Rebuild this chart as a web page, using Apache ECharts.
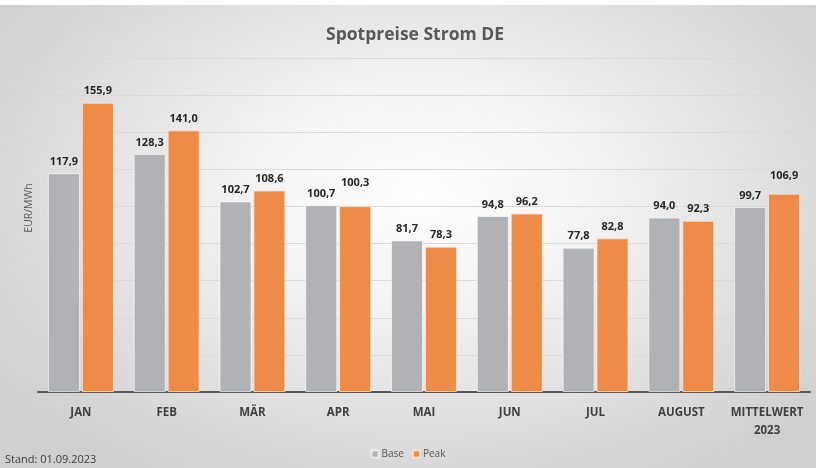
<!DOCTYPE html>
<html>
<head>
<meta charset="utf-8">
<script src="https://cdn.jsdelivr.net/npm/echarts@6/dist/echarts.min.js"></script>
<style>
html,body{margin:0;padding:0;background:#ffffff;}
#wrap{position:absolute;left:0;top:5px;width:816px;height:463px;
background:radial-gradient(ellipse 520px 330px at 420px 190px,#ffffff 0%,#f2f2f2 35%,#dcdcdc 75%,#cfcfcf 100%);}
#chart{position:absolute;left:0;top:0;width:816px;height:468px;}
</style>
</head>
<body>
<div id="wrap"></div>
<div id="chart"></div>
<script>
const categories = ['JAN','FEB','MÄR','APR','MAI','JUN','JUL','AUGUST','MITTELWERT\n2023'];
const baseValues = [117.9,128.3,102.7,100.7,81.7,94.8,77.8,94.0,99.7];
const peakValues = [155.9,141.0,108.6,100.3,78.3,96.2,82.8,92.3,106.9];
const yTicks = [0,20,40,60,80,100,120,140,160,180];

const FONT = '"Open Sans", "Noto Sans", sans-serif';
const fmt = v => v.toFixed(1).replace('.', ',');

// label extra lift for overlapping labels (styling, not data)
const peakLift = {3: 12, 8: 6};

const chart = echarts.init(document.getElementById('chart'), null, {renderer:'canvas'});
const option = {
  backgroundColor: 'transparent',
  animation: false,
  title: {
    text: 'Spotpreise Strom DE',
    top: 21, left: 410, textAlign: 'center',
    textStyle: {fontFamily: FONT, fontSize: 17.5, fontWeight: 'bold', color: '#595959'}
  },
  legend: {
    bottom: 4, left: 'center',
    itemWidth: 7, itemHeight: 7, itemGap: 8, icon: 'rect',
    textStyle: {fontFamily: FONT, fontSize: 10, color: '#595959', padding:[0,0,0,-2]},
    data: ['Base','Peak']
  },
  grid: {left: 38, right: 6, top: 58, bottom: 76, containLabel: false},
  xAxis: {
    type: 'category', data: categories,
    axisLine: {show: true, lineStyle: {color: '#595959', width: 2}},
    axisTick: {show: false},
    axisLabel: {fontFamily: FONT, fontSize: 11.5, fontWeight: 'bold', color: '#404040', margin: 12, lineHeight: 18, interval: 0}
  },
  yAxis: {
    type: 'value', min: yTicks[0], max: yTicks[yTicks.length-1], interval: yTicks[1]-yTicks[0],
    axisLine: {show: false}, axisTick: {show: false}, axisLabel: {show: false},
    splitLine: {lineStyle: {color: '#dadada', width: 1}}
  },
  graphic: [
    {type: 'text', left: 5, top: 454, style: {text: 'Stand: 01.09.2023', fontFamily: FONT, fontSize: 11, fill: '#404040'}},
    {type: 'text', x: 29, y: 208, rotation: Math.PI/2, style: {text: 'EUR/MWh', fontFamily: FONT, fontSize: 10.5, fill: '#595959', align: 'center', verticalAlign: 'middle'}}
  ],
  series: [
    {
      name: 'Base', type: 'bar', barWidth: 32, barGap: '6%',
      itemStyle: {color: '#b1b2b6', borderColor: 'rgba(255,255,255,0.6)', borderWidth: 1},
      label: {show: true, position: 'top', distance: 6, formatter: p => fmt(p.value),
        fontFamily: FONT, fontSize: 11, fontWeight: 'bold', color: '#262626'},
      data: baseValues
    },
    {
      name: 'Peak', type: 'bar', barWidth: 32,
      itemStyle: {color: '#ef8b48', borderColor: 'rgba(255,230,210,0.8)', borderWidth: 1},
      label: {show: true, position: 'top', distance: 6, formatter: p => fmt(p.value),
        fontFamily: FONT, fontSize: 11, fontWeight: 'bold', color: '#262626'},
      data: peakValues.map((v, i) => peakLift[i] ? {value: v, label: {distance: 6 + peakLift[i]}} : v)
    }
  ]
};
chart.setOption(option);
</script>
</body>
</html>
